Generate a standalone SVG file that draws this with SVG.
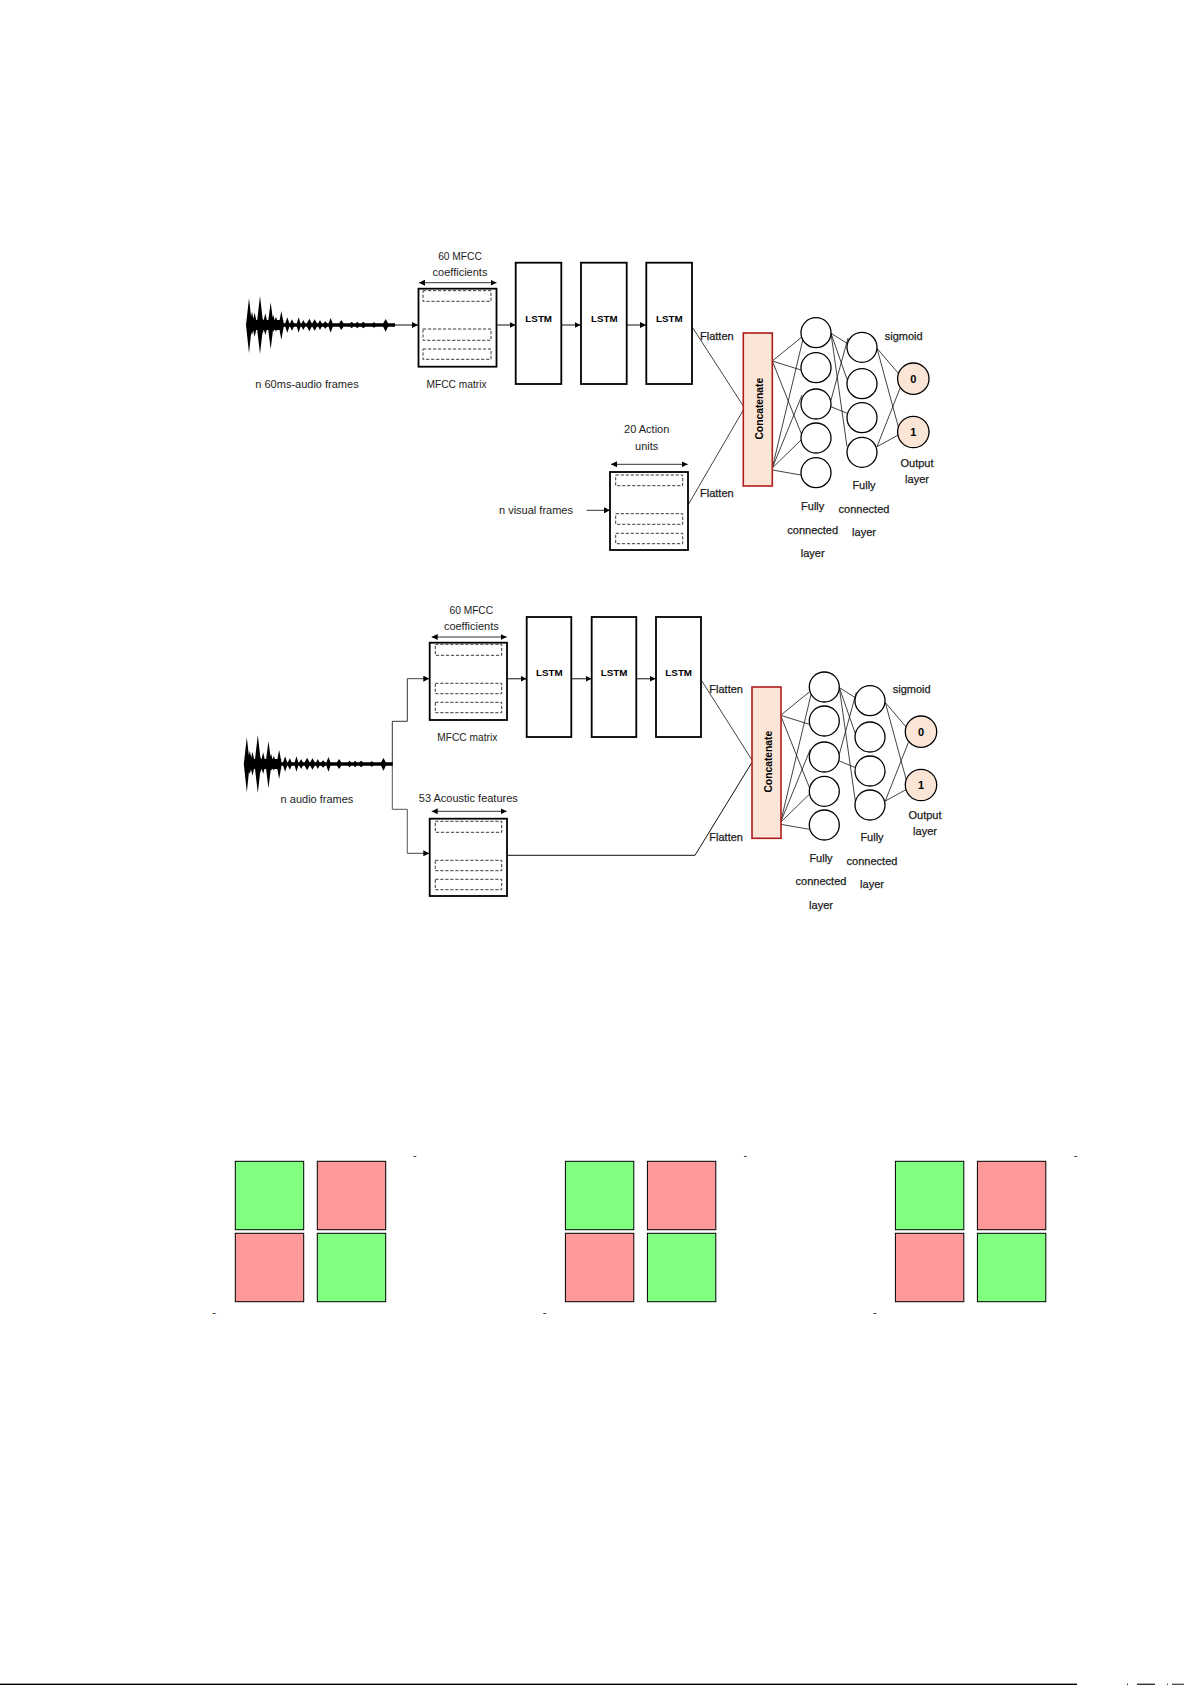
<svg xmlns="http://www.w3.org/2000/svg" xmlns:xlink="http://www.w3.org/1999/xlink" width="1192" height="1685" viewBox="0 0 1192 1685">
<style>
text{font-family:"Liberation Sans",Arial,sans-serif;font-size:11px;fill:#1c1c1c;text-anchor:middle}
.s{text-anchor:start}
.sb{stroke:#1c1c1c;stroke-width:.25}
.b{font-weight:700;fill:#000}
.l{font-weight:700;fill:#000;font-size:9.8px}
.c{font-weight:700;fill:#000;font-size:10.3px}
.m{font-size:10.2px}
.box{fill:#fff;stroke:#000;stroke-width:1.8}
.dash{fill:none;stroke:#222;stroke-width:.9;stroke-dasharray:3.2 1.8}
.cat{fill:#fbe5d6;stroke:#b01c1c;stroke-width:1.6}
.n{fill:#fff;stroke:#000;stroke-width:1.3}
.o{fill:#fbe5d6;stroke:#000;stroke-width:1.3}
.e{fill:none;stroke:#111;stroke-width:.8}
.a{fill:none;stroke:#555;stroke-width:1.4;marker-end:url(#ah)}
.t{fill:none;stroke:#333;stroke-width:1;marker-end:url(#ah)}
.w{fill:none;stroke:#333;stroke-width:1;marker-start:url(#as);marker-end:url(#ah)}
.g{fill:#80ff80;stroke:#000;stroke-width:1}
.r{fill:#ff9999;stroke:#000;stroke-width:1}
</style>
<defs>
<marker id="ah" markerUnits="userSpaceOnUse" markerWidth="6" markerHeight="6" refX="6" refY="3" orient="auto"><path d="M0 0L6 3L0 6Z" fill="#000"/></marker>
<marker id="as" markerUnits="userSpaceOnUse" markerWidth="6" markerHeight="6" refX="0" refY="3" orient="auto"><path d="M6 0L0 3L6 6Z" fill="#000"/></marker>
<path id="wave" fill="#000" d="M20 100H465V110H20ZM22 90H130V120H22ZM18 105L27 25L36 105L27 190ZM28 105L36 65L44 105L36 135ZM36 105L44 68L52 105L44 140ZM50 105L60 18L70 105L60 192ZM60 105L68 85L76 105L68 130ZM68 105L76 70L84 105L76 135ZM83 105L92 37L101 105L92 178ZM92 105L100 75L108 105L100 125ZM100 105L108 80L116 105L108 125ZM116 105L124 63L132 105L124 150ZM134 105L142 82L150 105L142 128ZM148 105L156 88L164 105L156 122ZM169 105L176 82L183 105L176 128ZM182 105L190 90L198 105L190 120ZM198 105L208 86L218 105L208 124ZM214 105L224 88L234 105L224 122ZM232 105L240 90L248 105L240 120ZM246 105L256 94L266 105L256 116ZM264 105L272 84L280 105L272 128ZM294 105L304 90L314 105L304 120ZM325 105L335 95L345 105L335 115ZM342 105L352 95L362 105L352 115ZM358 105L370 95L382 105L370 115ZM388 105L402 97L416 105L402 113ZM427 105L437 87L447 105L437 125ZM454 105L460 99L466 105L460 111Z"/>
</defs>

<g id="connectors">
<g id="top-flow">
<path class="a" d="M395 325H418"/>
<path class="a" d="M497 325H515.5"/>
<path class="a" d="M562 325H580.5"/>
<path class="a" d="M627 325H646"/>
<path class="t" d="M586.7 510.3H610"/>
<path class="w" d="M419 282.7H496.5"/>
<path class="w" d="M611 464.3H687.7"/>
<path class="e" d="M692 326.7L743.3 406"/>
<path class="e" d="M687.5 506L743.3 410"/>
</g>
<g id="top-dense">
<path class="e" d="M772.3 361L801 337.7"/>
<path class="e" d="M772.3 361L801 370"/>
<path class="e" d="M772.3 361L805 443"/>
<path class="e" d="M772.3 468L803 339"/>
<path class="e" d="M772.3 468L802 395"/>
<path class="e" d="M772.3 468L801 440"/>
<path class="e" d="M772.3 470L801 475"/>
<path class="e" d="M831 333.3L847 343.3"/>
<path class="e" d="M831 333.3L847 379.3"/>
<path class="e" d="M831 333.3L847 446.7"/>
<path class="e" d="M831 406.7L847 413.3"/>
<path class="e" d="M831 400L848 338"/>
<path class="e" d="M877 348.3L898.3 373.3"/>
<path class="e" d="M877 348.3L898.3 426.7"/>
<path class="e" d="M877 446.7L900 388.3"/>
<path class="e" d="M877 446.7L898.3 435"/>
</g>
<g id="bottom-flow">
<path class="e" style="stroke:#333;stroke-width:1" d="M392.3 763.7V721.3H407.3V678.7"/>
<path class="a" style="stroke:#444;stroke-width:1" d="M407.3 678.7H429.3"/>
<path class="e" style="stroke:#555;stroke-width:1" d="M392.3 763.7V809.3H407.3V853.3"/>
<path class="a" style="stroke:#444;stroke-width:1" d="M407.3 853.3H429.3"/>
<path class="a" d="M507.5 678.7H526.5"/>
<path class="a" d="M572 678.7H591.5"/>
<path class="a" d="M637 678.7H655.5"/>
<path class="w" d="M431.7 637H506.7"/>
<path class="w" d="M431.7 811.3H506.7"/>
<path class="e" d="M701.7 680.7L752 760"/>
<path class="e" style="stroke-width:1" d="M507 855.3H695L752 762.3"/>
</g>
<g id="bottom-dense" transform="translate(8.3 354.3)">
<path class="e" d="M772.3 361L801 337.7"/>
<path class="e" d="M772.3 361L801 370"/>
<path class="e" d="M772.3 361L805 443"/>
<path class="e" d="M772.3 468L803 339"/>
<path class="e" d="M772.3 468L802 395"/>
<path class="e" d="M772.3 468L801 440"/>
<path class="e" d="M772.3 470L801 475"/>
<path class="e" d="M831 333.3L847 343.3"/>
<path class="e" d="M831 333.3L847 379.3"/>
<path class="e" d="M831 333.3L847 446.7"/>
<path class="e" d="M831 406.7L847 413.3"/>
<path class="e" d="M831 400L848 338"/>
<path class="e" d="M877 348.3L898.3 373.3"/>
<path class="e" d="M877 348.3L898.3 426.7"/>
<path class="e" d="M877 446.7L900 388.3"/>
<path class="e" d="M877 446.7L898.3 435"/>
</g>
</g>

<g id="top-wave"><use xlink:href="#wave" href="#wave" transform="translate(240 290) scale(.3333)"/><text x="307" y="387.5">n 60ms-audio frames</text></g>
<g id="top-mfcc">
<rect class="box" x="418.5" y="288.7" width="78" height="78"/>
<rect class="dash" x="423" y="290.7" width="68" height="10.6"/>
<rect class="dash" x="423" y="329" width="68" height="11.3"/>
<rect class="dash" x="423" y="349" width="68" height="10.3"/>
<text class="m" x="460" y="260">60 MFCC</text><text x="460" y="275.7">coefficients</text>
<text class="m" x="456.5" y="387.5">MFCC matrix</text>
</g>
<g id="top-lstm1"><rect class="box" x="515.7" y="262.7" width="45.6" height="121.3"/><text class="l" x="538.7" y="321.7">LSTM</text></g>
<g id="top-lstm2"><rect class="box" x="581" y="262.7" width="45.7" height="121.3"/><text class="l" x="604.3" y="321.7">LSTM</text></g>
<g id="top-lstm3"><rect class="box" x="646.3" y="262.7" width="45.7" height="121.3"/><text class="l" x="669.3" y="321.7">LSTM</text></g>
<g id="top-au">
<rect class="box" x="610" y="472" width="78" height="78"/>
<rect class="dash" x="615.7" y="475" width="67" height="10.7"/>
<rect class="dash" x="615.7" y="513.7" width="67" height="10.6"/>
<rect class="dash" x="615.7" y="533.3" width="67" height="10.4"/>
<text x="646.7" y="433">20 Action</text><text x="646.7" y="450">units</text>
<text x="536" y="513.6">n visual frames</text>
</g>
<g id="top-flatten"><text class="s sb" x="700" y="339.8">Flatten</text><text class="s sb" x="700" y="496.9">Flatten</text></g>
<g id="top-concat"><rect class="cat" x="743.3" y="333" width="29" height="153"/><text class="c" transform="translate(762.5 408.7) rotate(-90)">Concatenate</text></g>
<g id="top-fc1">
<circle class="n" cx="816" cy="332.7" r="15"/><circle class="n" cx="816" cy="367.7" r="15"/><circle class="n" cx="816" cy="404" r="15"/><circle class="n" cx="816" cy="438" r="15"/><circle class="n" cx="816" cy="472.7" r="15"/>
<text class="sb" x="812.7" y="510.3">Fully</text><text class="sb" x="812.7" y="534">connected</text><text class="sb" x="812.7" y="557">layer</text>
</g>
<g id="top-fc2">
<circle class="n" cx="862" cy="347.3" r="15"/><circle class="n" cx="862" cy="383.7" r="15"/><circle class="n" cx="862" cy="417.7" r="15"/><circle class="n" cx="862" cy="452.3" r="15"/>
<text class="sb" x="864" y="489">Fully</text><text class="sb" x="864" y="512.7">connected</text><text class="sb" x="864" y="535.7">layer</text>
</g>
<g id="top-out">
<circle class="o" cx="913.3" cy="378.7" r="15.7"/><text class="b" x="913.3" y="382.8">0</text>
<circle class="o" cx="913.3" cy="432" r="15.7"/><text class="b" x="913.3" y="436">1</text>
<text class="sb" x="903.7" y="339.8">sigmoid</text><text class="sb" x="917" y="466.7">Output</text><text class="sb" x="917" y="482.7">layer</text>
</g>

<g id="bottom-wave"><use xlink:href="#wave" href="#wave" transform="translate(237.8 729) scale(.3333)"/><text x="317" y="802.6">n audio frames</text></g>
<g id="bottom-mfcc">
<rect class="box" x="429.7" y="642.7" width="77.3" height="77.3"/>
<rect class="dash" x="435.3" y="644.3" width="66.4" height="11"/>
<rect class="dash" x="435.3" y="683.3" width="66.4" height="10.4"/>
<rect class="dash" x="435.3" y="702.3" width="66.4" height="10.4"/>
<text class="m" x="471.3" y="613.7">60 MFCC</text><text x="471.3" y="629.8">coefficients</text>
<text class="m" x="467.3" y="740.7">MFCC matrix</text>
</g>
<g id="bottom-lstm1"><rect class="box" x="526.7" y="617" width="44.6" height="120"/><text class="l" x="549.3" y="675.7">LSTM</text></g>
<g id="bottom-lstm2"><rect class="box" x="591.7" y="617" width="44.6" height="120"/><text class="l" x="614" y="675.7">LSTM</text></g>
<g id="bottom-lstm3"><rect class="box" x="656" y="617" width="45" height="120"/><text class="l" x="678.7" y="675.7">LSTM</text></g>
<g id="bottom-acoustic">
<rect class="box" x="429.7" y="818.7" width="77.3" height="77.3"/>
<rect class="dash" x="435.3" y="821.3" width="66.4" height="11"/>
<rect class="dash" x="435.3" y="860.3" width="66.4" height="10.4"/>
<rect class="dash" x="435.3" y="879.3" width="66.4" height="10.4"/>
<text x="468.3" y="801.6">53 Acoustic features</text>
</g>
<g id="bottom-flatten"><text class="s sb" x="709.3" y="693.2">Flatten</text><text class="s sb" x="709.3" y="841.3">Flatten</text></g>
<g id="bottom-concat"><rect class="cat" x="752" y="687" width="29" height="151.3"/><text class="c" transform="translate(771.5 761.7) rotate(-90)">Concatenate</text></g>
<g id="bottom-fc1">
<circle class="n" cx="824.3" cy="687" r="15"/><circle class="n" cx="824.3" cy="721" r="15"/><circle class="n" cx="824.3" cy="757" r="15"/><circle class="n" cx="824.3" cy="791.3" r="15"/><circle class="n" cx="824.3" cy="825" r="15"/>
<text class="sb" x="821" y="862">Fully</text><text class="sb" x="821" y="885.4">connected</text><text class="sb" x="821" y="908.7">layer</text>
</g>
<g id="bottom-fc2">
<circle class="n" cx="870" cy="700.7" r="15"/><circle class="n" cx="870" cy="737" r="15"/><circle class="n" cx="870" cy="771" r="15"/><circle class="n" cx="870" cy="805" r="15"/>
<text class="sb" x="872" y="841.3">Fully</text><text class="sb" x="872" y="864.7">connected</text><text class="sb" x="872" y="887.7">layer</text>
</g>
<g id="bottom-out">
<circle class="o" cx="921" cy="731.7" r="15.7"/><text class="b" x="921" y="735.8">0</text>
<circle class="o" cx="921" cy="785" r="15.7"/><text class="b" x="921" y="789">1</text>
<text class="sb" x="911.7" y="693.2">sigmoid</text><text class="sb" x="925" y="818.7">Output</text><text class="sb" x="925" y="834.7">layer</text>
</g>

<g id="matrix-1">
<rect class="g" x="235.3" y="1161.3" width="68.4" height="68.4"/><rect class="r" x="317.3" y="1161.3" width="68.4" height="68.4"/>
<rect class="r" x="235.3" y="1233.3" width="68.4" height="68.4"/><rect class="g" x="317.3" y="1233.3" width="68.4" height="68.4"/>
<text class="s" x="412.9" y="1159">-</text><text class="s" x="212.2" y="1316">-</text>
</g>
<g id="matrix-2">
<rect class="g" x="565.4" y="1161.3" width="68.4" height="68.4"/><rect class="r" x="647.4" y="1161.3" width="68.4" height="68.4"/>
<rect class="r" x="565.4" y="1233.3" width="68.4" height="68.4"/><rect class="g" x="647.4" y="1233.3" width="68.4" height="68.4"/>
<text class="s" x="743.6" y="1159">-</text><text class="s" x="542.8" y="1316">-</text>
</g>
<g id="matrix-3">
<rect class="g" x="895.4" y="1161.3" width="68.4" height="68.4"/><rect class="r" x="977.4" y="1161.3" width="68.4" height="68.4"/>
<rect class="r" x="895.4" y="1233.3" width="68.4" height="68.4"/><rect class="g" x="977.4" y="1233.3" width="68.4" height="68.4"/>
<text class="s" x="1073.8" y="1159">-</text><text class="s" x="873" y="1316">-</text>
</g>
<g id="page-edge">
<rect x="0" y="1683.6" width="1077" height="1.4" fill="#000"/>
<rect x="1127" y="1683.6" width="1" height="1.4" fill="#222"/><rect x="1137" y="1683.6" width="18" height="1.4" fill="#333"/><rect x="1167" y="1683.6" width="1" height="1.4" fill="#444"/><rect x="1172" y="1683.6" width="12" height="1.4" fill="#555"/>
</g>
</svg>
